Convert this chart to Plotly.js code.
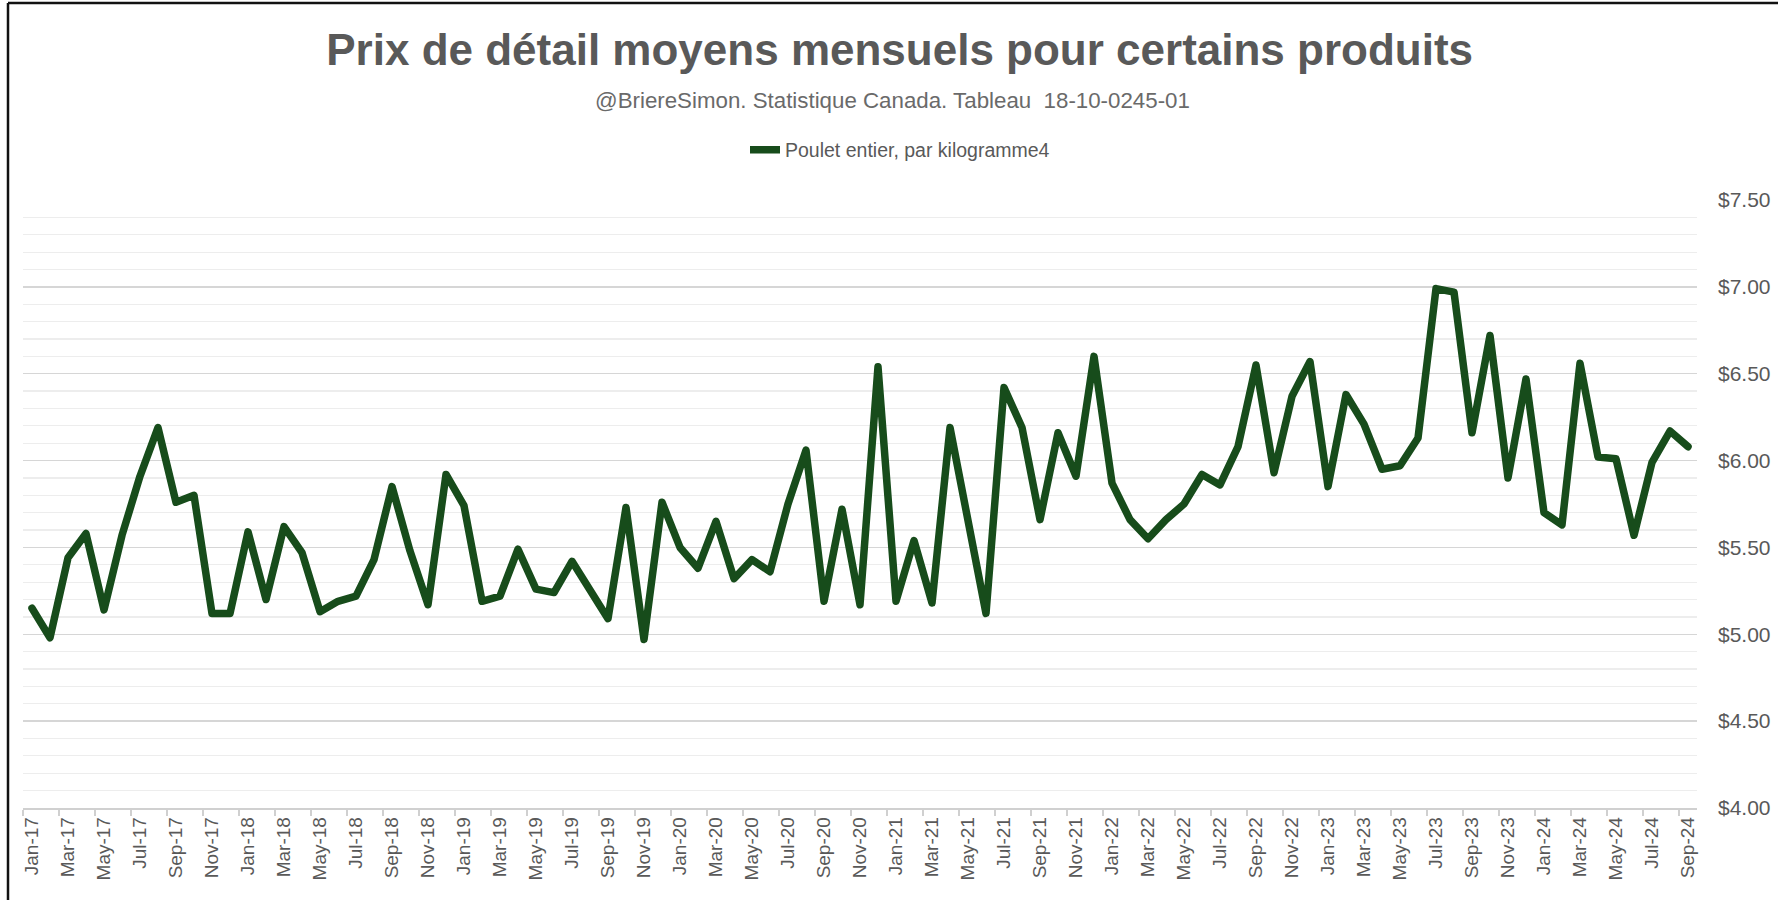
<!DOCTYPE html>
<html>
<head>
<meta charset="utf-8">
<script src="https://cdn.plot.ly/plotly-3.0.1.min.js"></script>
<style>
  html, body { margin: 0; padding: 0; background: #ffffff; }
  #chart { width: 1778px; height: 900px; }
  #chart .scatterlayer path.js-line { stroke-linejoin: round; stroke-linecap: round; }
</style>
</head>
<body>
<div id="chart"></div>
<script>
// ---- Data ----
const months = [
  "Jan-17","Feb-17","Mar-17","Apr-17","May-17","Jun-17","Jul-17","Aug-17","Sep-17","Oct-17","Nov-17","Dec-17",
  "Jan-18","Feb-18","Mar-18","Apr-18","May-18","Jun-18","Jul-18","Aug-18","Sep-18","Oct-18","Nov-18","Dec-18",
  "Jan-19","Feb-19","Mar-19","Apr-19","May-19","Jun-19","Jul-19","Aug-19","Sep-19","Oct-19","Nov-19","Dec-19",
  "Jan-20","Feb-20","Mar-20","Apr-20","May-20","Jun-20","Jul-20","Aug-20","Sep-20","Oct-20","Nov-20","Dec-20",
  "Jan-21","Feb-21","Mar-21","Apr-21","May-21","Jun-21","Jul-21","Aug-21","Sep-21","Oct-21","Nov-21","Dec-21",
  "Jan-22","Feb-22","Mar-22","Apr-22","May-22","Jun-22","Jul-22","Aug-22","Sep-22","Oct-22","Nov-22","Dec-22",
  "Jan-23","Feb-23","Mar-23","Apr-23","May-23","Jun-23","Jul-23","Aug-23","Sep-23","Oct-23","Nov-23","Dec-23",
  "Jan-24","Feb-24","Mar-24","Apr-24","May-24","Jun-24","Jul-24","Aug-24","Sep-24"
];

const pouletEntierParKg = [
  5.15, 4.98, 5.44, 5.58, 5.14, 5.57, 5.91, 6.19, 5.76, 5.80, 5.12, 5.12,
  5.59, 5.20, 5.62, 5.47, 5.13, 5.19, 5.22, 5.43, 5.85, 5.48, 5.17, 5.92,
  5.74, 5.19, 5.22, 5.49, 5.26, 5.24, 5.42, 5.25, 5.09, 5.73, 4.97, 5.76,
  5.50, 5.38, 5.65, 5.32, 5.43, 5.36, 5.75, 6.06, 5.19, 5.72, 5.17, 6.54,
  5.19, 5.54, 5.18, 6.19, 5.64, 5.12, 6.42, 6.19, 5.66, 6.16, 5.91, 6.60,
  5.87, 5.66, 5.55, 5.66, 5.75, 5.92, 5.86, 6.08, 6.55, 5.93, 6.37, 6.57,
  5.85, 6.38, 6.21, 5.95, 5.97, 6.13, 6.99, 6.97, 6.16, 6.72, 5.90, 6.47,
  5.70, 5.63, 6.56, 6.02, 6.01, 5.57, 5.99, 6.17, 6.08
];

const seriesName = "Poulet entier, par kilogramme4";
const titleText = "Prix de détail moyens mensuels pour certains produits";
const subtitleText = "@BriereSimon. Statistique Canada. Tableau&nbsp;&nbsp;18-10-0245-01";

// ---- Styling ----
const FONT = "Liberation Sans, Arial, sans-serif";
const GRAY = "#595959";
const LINE_GREEN = "#174c1b";

const trace = {
  type: "scatter",
  mode: "lines",
  x: months,
  y: pouletEntierParKg,
  name: seriesName,
  line: { color: LINE_GREEN, width: 7.5, shape: "linear" },
  hoverinfo: "x+y"
};

const layout = {
  width: 1778,
  height: 900,
  paper_bgcolor: "#ffffff",
  plot_bgcolor: "#ffffff",
  margin: { l: 23, r: 81, t: 200, b: 92, pad: 0 },
  font: { family: FONT, color: GRAY },
  title: {
    text: "<b>" + titleText + "</b>",
    font: { family: FONT, size: 44, color: GRAY },
    xref: "container", x: 0.506, xanchor: "center",
    yref: "container", y: 1 - 34 / 900, yanchor: "top"
  },
  showlegend: true,
  legend: {
    orientation: "h",
    xref: "paper", x: (745 - 23) / 1674, xanchor: "left",
    yref: "paper", y: 1 + (200 - 150) / 608, yanchor: "middle",
    font: { family: FONT, size: 19.5, color: GRAY },
    bgcolor: "rgba(0,0,0,0)"
  },
  xaxis: {
    type: "category",
    tickmode: "linear",
    tick0: 0,
    dtick: 2,
    tickson: "boundaries",
    ticks: "outside",
    ticklen: 6,
    tickcolor: "#d0d0d0",
    tickwidth: 1.5,
    tickangle: -90,
    tickfont: { family: FONT, size: 19, color: GRAY },
    showline: true,
    linecolor: "#d0d0d0",
    linewidth: 1.5,
    showgrid: false,
    zeroline: false,
    range: [-0.5, months.length - 0.5],
    fixedrange: true
  },
  yaxis: {
    side: "right",
    range: [4, 7.5],
    tickmode: "linear",
    tick0: 4,
    dtick: 0.5,
    tickprefix: "$",
    tickformat: ".2f",
    tickfont: { family: FONT, size: 21, color: GRAY },
    ticks: "",
    ticklabelstandoff: 20,
    showgrid: true,
    gridcolor: "#d6d6d6",
    gridwidth: 1.5,
    minor: { dtick: 0.1, showgrid: true, gridcolor: "#ededed", gridwidth: 1.2 },
    showline: false,
    zeroline: false,
    fixedrange: true
  },
  annotations: [
    {
      text: subtitleText,
      xref: "paper", x: (892 - 23) / 1674, xanchor: "center",
      yref: "paper", y: 1 + (200 - 100) / 608, yanchor: "middle",
      showarrow: false,
      font: { family: FONT, size: 22.3, color: "#6a6a6a" }
    }
  ],
  shapes: [
    { type: "line", xref: "paper", yref: "paper",
      x0: (8 - 23) / 1674, x1: (8 - 23) / 1674,
      y0: 1 + (200 - 3) / 608, y1: -100 / 608,
      line: { color: "#111111", width: 2.5 } },
    { type: "line", xref: "paper", yref: "paper",
      x0: (8 - 23) / 1674, x1: (1790 - 23) / 1674,
      y0: 1 + (200 - 3) / 608, y1: 1 + (200 - 3) / 608,
      line: { color: "#111111", width: 2.5 } }
  ]
};

Plotly.newPlot("chart", [trace], layout, { displayModeBar: false, staticPlot: true });
</script>
</body>
</html>
